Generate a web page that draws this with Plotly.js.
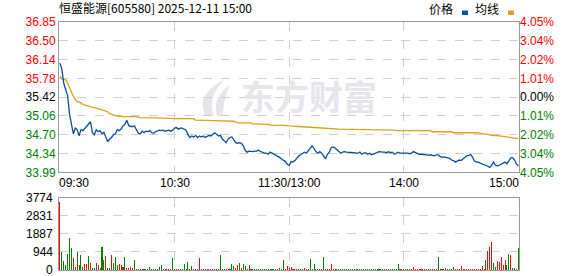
<!DOCTYPE html>
<html><head><meta charset="utf-8">
<script src="https://cdn.plot.ly/plotly-3.0.1.min.js"></script>
<style>html,body{margin:0;padding:0;background:#fff;}#chart{width:578px;height:276px;}</style>
</head><body><div id="chart"></div>
<script>
// ---------------- data ----------------
const stockTitle = '恒盛能源[605580] 2025-12-11 15:00';
const legendNames = ['价格', '均线'];
const watermarkText = '东方财富';
const timeLabels = ['09:30', '10:30', '11:30/13:00', '14:00', '15:00'];
const timeLabelMinutes = [0, 60, 120, 180, 240];
const prevClose = 35.42;
const maxPct = 4.05;
const priceTickLabels = ['36.85','36.50','36.14','35.78','35.42','35.06','34.70','34.34','33.99'];
const pctTickLabels = ['4.05%','3.04%','2.02%','1.01%','0.00%','1.01%','2.02%','3.04%','4.05%'];
const volTicks = [0, 944, 1887, 2831, 3774];

// one price per trading minute (0 = 09:30, 120 = 11:30/13:00, 240 = 15:00)
const price = [
 36.07,35.95,35.68,35.55,35.45,35.10,34.90,34.72,34.83,34.80,
 34.68,34.80,34.78,34.82,34.86,34.89,34.95,34.74,34.70,34.80,
 34.76,34.78,34.72,34.75,34.66,34.57,34.62,34.65,34.70,34.72,
 34.80,34.78,34.81,34.87,34.90,34.98,34.88,34.86,34.86,34.87,
 34.80,34.73,34.72,34.77,34.74,34.77,34.76,34.78,34.74,34.73,
 34.76,34.77,34.79,34.78,34.79,34.77,34.78,34.79,34.77,34.79,
 34.83,34.84,34.81,34.83,34.83,34.81,34.79,34.71,34.65,34.68,
 34.66,34.69,34.65,34.68,34.66,34.68,34.65,34.67,34.69,34.68,
 34.71,34.74,34.71,34.68,34.69,34.62,34.59,34.55,34.62,34.65,
 34.66,34.60,34.55,34.54,34.55,34.54,34.49,34.40,34.37,34.39,
 34.38,34.38,34.39,34.39,34.41,34.38,34.37,34.35,34.35,34.33,
 34.37,34.35,34.34,34.31,34.29,34.27,34.24,34.21,34.19,34.14,
 34.12,34.19,34.18,34.21,34.26,34.30,34.32,34.34,34.37,34.35,
 34.40,34.45,34.49,34.44,34.38,34.35,34.38,34.35,34.28,34.24,
 34.33,34.37,34.46,34.47,34.45,34.42,34.38,34.35,34.37,34.38,
 34.37,34.37,34.36,34.37,34.36,34.35,34.35,34.37,34.33,34.35,
 34.36,34.33,34.35,34.32,34.33,34.35,34.36,34.38,34.37,34.37,
 34.37,34.36,34.38,34.36,34.37,34.33,34.35,34.37,34.35,34.35,
 34.36,34.36,34.35,34.34,34.35,34.38,34.36,34.34,34.33,34.33,
 34.33,34.33,34.32,34.31,34.32,34.31,34.30,34.32,34.32,34.29,
 34.27,34.28,34.27,34.26,34.25,34.22,34.21,34.18,34.20,34.22,
 34.21,34.24,34.26,34.30,34.31,34.33,34.27,34.20,34.18,34.18,
 34.16,34.14,34.13,34.12,34.10,34.08,34.12,34.18,34.12,34.11,
 34.12,34.14,34.16,34.18,34.15,34.22,34.26,34.26,34.22,34.14,
 34.11
];

// average-price line, read at its visible break points
const avgMinutes = [0,1,3,4,5,6,7,8,9,11,12,14,16,18,19,21,23,25,26,28,30,33,40,42,47,54,61,70,71,80,81,91,92,93,100,101,109,111,118,120,125,130,137,138,146,175,176,194,195,205,206,219,220,224,226,230,232,234,237,239,240];
const avgPrice   = [35.82,35.77,35.75,35.69,35.60,35.50,35.44,35.38,35.34,35.31,35.28,35.26,35.24,35.22,35.21,35.20,35.17,35.14,35.10,35.08,35.06,35.05,35.05,35.03,35.03,35.02,35.01,35.01,34.98,34.98,34.97,34.96,34.95,34.93,34.93,34.91,34.90,34.88,34.88,34.87,34.86,34.85,34.84,34.83,34.81,34.79,34.78,34.78,34.76,34.76,34.74,34.74,34.73,34.71,34.69,34.68,34.67,34.66,34.65,34.63,34.63];

// volume per minute and direction (1 = up / red, 0 = down / green)
const volume = [
 3516,943,463,257,858,1664,1149,600,172,943,
 257,772,137,292,292,737,343,120,86,343,
 257,120,1200,514,720,86,86,772,343,686,
 257,292,257,172,686,120,86,172,86,514,
 51,51,51,40,51,60,60,172,40,60,
 60,60,172,257,50,40,60,50,60,600,
 60,40,50,40,50,292,60,394,60,223,
 50,40,60,634,60,40,50,40,50,40,
 50,60,40,50,772,50,40,50,40,50,
 292,223,80,257,343,120,292,223,60,257,
 50,40,50,40,60,50,40,50,40,50,
 40,50,40,50,40,120,60,514,60,223,
 120,172,50,40,60,40,50,40,120,50,
 40,566,60,300,40,50,40,60,686,60,
 40,50,292,60,40,50,40,50,40,50,
 40,50,40,50,40,50,40,50,40,50,
 40,50,40,50,40,50,40,50,40,50,
 40,50,40,50,40,50,40,292,50,40,
 60,40,50,40,50,154,40,50,40,50,
 40,60,40,50,40,50,40,50,686,40,
 50,40,120,50,40,60,154,50,40,60,
 223,50,40,50,60,40,50,40,60,50,
 40,223,60,514,977,1200,1458,343,154,463,
 394,686,257,514,257,858,806,80,86,60,
 1149
];
const volUp = [
 1,0,0,0,0,0,0,1,0,0,
 1,0,0,1,1,0,1,0,0,1,
 0,1,0,0,1,0,0,1,0,0,
 0,1,1,1,0,1,1,1,1,0,
 1,0,1,1,0,1,0,0,1,0,
 1,0,0,0,1,1,0,1,1,0,
 0,1,0,1,0,0,0,0,1,0,
 1,0,1,1,1,0,1,1,1,1,
 1,0,1,1,0,1,0,1,1,0,
 0,0,1,1,0,1,0,0,1,0,
 1,0,0,0,0,1,0,0,0,0,
 0,0,0,0,1,0,0,0,1,1,
 1,1,1,1,1,1,0,1,1,1,
 0,0,0,0,1,0,0,0,0,1,
 0,1,1,1,0,0,0,0,1,0,
 0,0,0,0,0,1,0,0,0,0,
 0,0,0,0,0,0,0,0,0,0,
 0,1,0,0,0,0,1,0,0,1,
 1,0,0,0,1,1,1,1,1,1,
 1,1,0,1,1,1,0,1,0,1,
 0,0,1,0,0,0,0,1,1,1,
 1,1,1,1,1,0,1,1,1,1,
 1,1,1,0,1,1,1,0,0,1,
 1,1,1,1,0,0,1,0,0,1,
 0
];

// ---------------- styling / layout ----------------
const RED = '#ff0000', GREEN = '#008000', BLACK = '#000000';
const PRICE_COLOR = '#0a4ea3', AVG_COLOR = '#daa21e';
const GRID = '#cfcfcf', FRAME = '#9a9a9a';
const W = 578, H = 276, L = 59, R = 59, T = 22, B = 6;
const plotW = W - L - R, plotH = H - T - B;
const px = x => (x - L) / plotW;
const py = y => (H - B - y) / plotH;
const NUM_FONT = '"Liberation Sans", Arial, sans-serif';
const CJK_FONT = '"Noto Sans CJK SC", "Noto Sans", sans-serif';

const minutes = price.map((_, i) => i);
const levels = [4, 3, 2, 1, 0, -1, -2, -3, -4];
const tickVals = levels.map(k => prevClose * (1 + maxPct * k / 4 / 100));
const lvlColor = k => k > 0 ? RED : (k < 0 ? GREEN : BLACK);
const colored = (arr) => arr.map((t, i) => `<span style="color:${lvlColor(levels[i])}">${t}</span>`);
const yRange = [tickVals[tickVals.length - 1], tickVals[0]];

const traces = [
  {type: 'bar', x: minutes, y: volume, xaxis: 'x2', yaxis: 'y2', width: 0.55,
   marker: {color: volUp.map(u => u ? RED : GREEN), line: {width: 0}}, hoverinfo: 'skip'},
  {type: 'scatter', mode: 'lines', x: avgMinutes, y: avgPrice, xaxis: 'x', yaxis: 'y',
   line: {color: AVG_COLOR, width: 1.3}, hoverinfo: 'skip'},
  {type: 'scatter', mode: 'lines', x: minutes, y: price, xaxis: 'x', yaxis: 'y',
   line: {color: PRICE_COLOR, width: 1.3}, hoverinfo: 'skip'},
  {type: 'scatter', mode: 'lines', x: minutes, y: price, xaxis: 'x', yaxis: 'y3',
   line: {width: 0}, opacity: 0, hoverinfo: 'skip'}
];

const axisCommon = {showgrid: true, gridcolor: GRID, griddash: 'dash', gridwidth: 1,
  showline: true, mirror: true, linecolor: FRAME, linewidth: 1, zeroline: false, ticks: '', fixedrange: true};

const annotations = [
  {text: `<b>${watermarkText}</b>`, xref: 'paper', yref: 'paper', x: px(309), y: py(96),
   xanchor: 'center', yanchor: 'middle',
   showarrow: false, font: {family: CJK_FONT, size: 34, color: '#e5e5ea'}},
  {text: legendNames[0], xref: 'paper', yref: 'paper', x: px(441), y: py(8.5), xanchor: 'center', yanchor: 'middle',
   showarrow: false, font: {family: CJK_FONT, size: 12, color: BLACK}},
  {text: legendNames[1], xref: 'paper', yref: 'paper', x: px(487), y: py(8.5), xanchor: 'center', yanchor: 'middle',
   showarrow: false, font: {family: CJK_FONT, size: 12, color: BLACK}}
];
timeLabels.forEach((t, i) => {
  const last = timeLabels.length - 1;
  annotations.push({text: t, xref: 'x', yref: 'paper', x: timeLabelMinutes[i], y: py(183),
    xanchor: i === 0 ? 'left' : (i === last ? 'right' : 'center'), yanchor: 'middle',
    xshift: i === 0 ? -3 : (i === last ? 3 : 0),
    showarrow: false, font: {family: NUM_FONT, size: 12, color: BLACK}});
});
// volume-axis labels (drawn through the y2 scale so the bottom "0" is not dropped at the div edge)
volTicks.forEach(v => {
  annotations.push({text: String(v), xref: 'paper', yref: 'y2', x: px(55), y: v,
    xanchor: 'right', yanchor: 'middle', showarrow: false,
    font: {family: NUM_FONT, size: 12, color: BLACK}});
});

const P = (x, y) => `${px(x)},${py(y)}`;
const shapes = [
  {type: 'rect', xref: 'paper', yref: 'paper', x0: px(462), x1: px(468), y0: py(15), y1: py(10.5),
   fillcolor: PRICE_COLOR, line: {width: 0}},
  {type: 'rect', xref: 'paper', yref: 'paper', x0: px(508), x1: px(514), y0: py(15), y1: py(10.5),
   fillcolor: AVG_COLOR, line: {width: 0}},
  {type: 'path', xref: 'paper', yref: 'paper', layer: 'below', fillcolor: '#e5e5ea', line: {width: 0},
   path: `M${P(206,116)} C${P(197,101)} ${P(207,88)} ${P(224,80)} C${P(213,92)} ${P(209,103)} ${P(214,116)} Z`},
  {type: 'path', xref: 'paper', yref: 'paper', layer: 'below', fillcolor: '#e5e5ea', line: {width: 0},
   path: `M${P(217,116)} C${P(213,102)} ${P(220,92)} ${P(230,85)} C${P(225,96)} ${P(223,106)} ${P(223,116)} Z`}
];

const mainBottom = py(172.3), volTop = py(197.5);
const layout = {
  width: W, height: H, margin: {l: L, r: R, t: T, b: B},
  paper_bgcolor: '#ffffff', plot_bgcolor: '#ffffff', showlegend: false, bargap: 0,
  title: {text: stockTitle, xref: 'container', yref: 'container', x: L / W, xanchor: 'left',
    y: 1 - 9 / H, yanchor: 'middle', font: {family: CJK_FONT, size: 12, color: BLACK}},
  xaxis: Object.assign({}, axisCommon, {domain: [0, 1], anchor: 'y', range: [-0.5, 240.3],
    tickvals: timeLabelMinutes.slice(1, -1), showticklabels: false}),
  yaxis: Object.assign({}, axisCommon, {domain: [mainBottom, 1], anchor: 'x', range: yRange,
    tickvals: tickVals, ticktext: colored(priceTickLabels), tickfont: {family: NUM_FONT, size: 12}}),
  yaxis3: {overlaying: 'y', side: 'right', anchor: 'x', range: yRange, tickvals: tickVals,
    ticktext: colored(pctTickLabels), showgrid: false, showline: false, zeroline: false, ticks: '',
    tickfont: {family: NUM_FONT, size: 12}, fixedrange: true},
  xaxis2: Object.assign({}, axisCommon, {domain: [0, 1], anchor: 'y2', matches: 'x',
    tickvals: timeLabelMinutes.slice(1, -1), showticklabels: false}),
  yaxis2: Object.assign({}, axisCommon, {domain: [0, volTop], anchor: 'x2', range: [0, volTicks[volTicks.length - 1]],
    tickvals: volTicks, showticklabels: false}),
  annotations: annotations,
  shapes: shapes
};

Plotly.newPlot('chart', traces, layout, {staticPlot: true, displayModeBar: false});
</script>
</body></html>
